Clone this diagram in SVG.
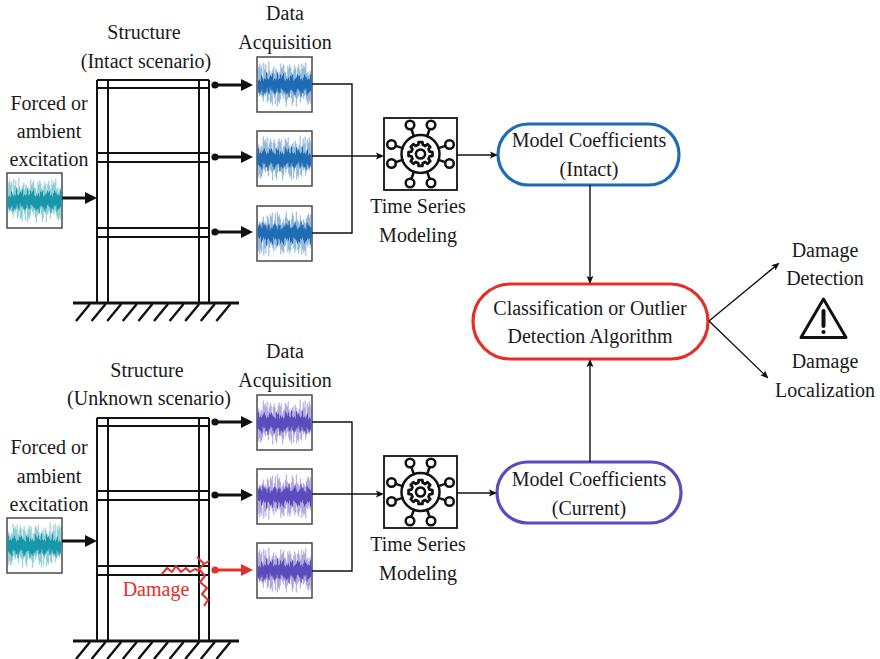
<svg xmlns="http://www.w3.org/2000/svg" xmlns:xlink="http://www.w3.org/1999/xlink" width="880" height="659" viewBox="0 0 880 659">
  <style>
    text { font-family: "Liberation Serif", "DejaVu Serif", serif; font-size: 20px; fill: #1a1a1a; text-anchor: middle; }
    .frame { stroke: #111; stroke-width: 2; fill: none; }
    .ground { stroke: #111; stroke-width: 3; fill: none; }
    .hatch { stroke: #111; stroke-width: 2.4; fill: none; }
    .sigbox { fill: #fff; stroke: #4a4a4a; stroke-width: 1.5; }
    .thick { stroke: #111; stroke-width: 3; fill: none; }
    .thin { stroke: #111; stroke-width: 1.4; fill: none; }
    .red { stroke: #e3302a; }
    .blue { color: #1f6cb4; }
    .teal { color: #1798aa; }
    .purple { color: #5a4cbc; }
    .icon { stroke: #111; stroke-width: 2.5; fill: none; stroke-linejoin: round; stroke-linecap: round; }
    .pill { fill: #fff; stroke-width: 3.2; }
  </style>
  <defs>
    <marker id="headThick" markerUnits="userSpaceOnUse" viewBox="0 0 12 12" markerWidth="12" markerHeight="12" refX="4" refY="6" orient="auto">
      <path d="M0,0 L12,6 L0,12 Z" fill="#111"/>
    </marker>
    <marker id="headThickRed" markerUnits="userSpaceOnUse" viewBox="0 0 12 12" markerWidth="12" markerHeight="12" refX="4" refY="6" orient="auto">
      <path d="M0,0 L12,6 L0,12 Z" fill="#e3302a"/>
    </marker>
    <marker id="headThin" markerUnits="userSpaceOnUse" viewBox="0 0 8 8" markerWidth="8" markerHeight="8" refX="6" refY="4" orient="auto">
      <path d="M0,0.6 L8,4 L0,7.4 L1.5,4 Z" fill="#111"/>
    </marker>

    <!-- noisy vibration record, centred on y=0, 54 px wide -->
    <g id="sig">
      <path fill="none" stroke="currentColor" stroke-opacity="0.42" stroke-width="0.7" d="M0,-14 L.5,9 L1,-18 L1.5,12 L2,-21 L2.5,7 L3,-16 L3.5,11 L4,-19 L4.5,13 L5,-8 L5.5,17 L6,-22 L6.5,10 L7,-15 L7.5,12 L8,-20 L8.5,9 L9,-13 L9.5,18 L10,-11 L10.5,16 L11,-23 L11.5,8 L12,-14 L12.5,19 L13,-10 L13.5,17 L14,-12 L14.5,21 L15,-15 L15.5,9 L16,-18 L16.5,13 L17,-11 L17.5,20 L18,-16 L18.5,8 L19,-14 L19.5,22 L20,-12 L20.5,17 L21,-10 L21.5,19 L22,-13 L22.5,15 L23,-21 L23.5,9 L24,-16 L24.5,11 L25,-18 L25.5,14 L26,-20 L26.5,10 L27,-13 L27.5,17 L28,-12 L28.5,22 L29,-8 L29.5,15 L30,-19 L30.5,11 L31,-16 L31.5,13 L32,-20 L32.5,9 L33,-17 L33.5,14 L34,-12 L34.5,21 L35,-10 L35.5,18 L36,-15 L36.5,11 L37,-19 L37.5,13 L38,-16 L38.5,22 L39,-9 L39.5,14 L40,-17 L40.5,12 L41,-20 L41.5,10 L42,-15 L42.5,18 L43,-11 L43.5,13 L44,-21 L44.5,9 L45,-16 L45.5,14 L46,-19 L46.5,12 L47,-17 L47.5,10 L48,-22 L48.5,15 L49,-11 L49.5,18 L50,-13 L50.5,20 L51,-9 L51.5,16 L52,-12 L52.5,19 L53,-14 L53.5,10"/>
      <path fill="none" stroke="currentColor" stroke-width="1.05" d="M.25,6 L.75,-4 L1.25,8 L1.75,-5 L2.25,10 L2.75,-3 L3.25,7 L3.75,-9 L4.25,5 L4.75,-6 L5.25,11 L5.75,-4 L6.25,8 L6.75,-6 L7.25,9 L7.75,-5 L8.25,7 L8.75,-12 L9.25,4 L9.75,-6 L10.25,8 L10.75,-5 L11.25,10 L11.75,-7 L12.25,3 L12.75,-9 L13.25,6 L13.75,-8 L14.25,5 L14.75,-11 L15.25,7 L15.75,-4 L16.25,9 L16.75,-6 L17.25,10 L17.75,-5 L18.25,8 L18.75,-6 L19.25,4 L19.75,-12 L20.25,7 L20.75,-5 L21.25,9 L21.75,-6 L22.25,8 L22.75,-10 L23.25,4 L23.75,-7 L24.25,5 L24.75,-9 L25.25,6 L25.75,-11 L26.25,8 L26.75,-5 L27.25,7 L27.75,-4 L28.25,10 L28.75,-6 L29.25,9 L29.75,-5 L30.25,8 L30.75,-7 L31.25,13 L31.75,-4 L32.25,6 L32.75,-9 L33.25,5 L33.75,-8 L34.25,6 L34.75,-10 L35.25,7 L35.75,-4 L36.25,9 L36.75,-5 L37.25,11 L37.75,-6 L38.25,8 L38.75,-7 L39.25,5 L39.75,-10 L40.25,4 L40.75,-8 L41.25,6 L41.75,-9 L42.25,7 L42.75,-5 L43.25,12 L43.75,-6 L44.25,8 L44.75,-4 L45.25,9 L45.75,-7 L46.25,5 L46.75,-10 L47.25,6 L47.75,-8 L48.25,4 L48.75,-7 L49.25,11 L49.75,-5 L50.25,9 L50.75,-6 L51.25,8 L51.75,-5 L52.25,7 L52.75,-10 L53.25,6 L53.75,-4"/>
    </g>

    <!-- three-storey frame with fixed base -->
    <g id="frame">
      <path class="frame" d="M97,80 V303 M108,80 V303 M199,80 V303 M209,80 V303 M97,80 H209 M97,88 H209 M97,153 H209 M97,162 H209 M97,228 H209 M97,237 H209"/>
      <path class="ground" d="M73,303 H239"/>
      <path class="hatch" d="M90,304 l-14,17 M105.6,304 l-14,17 M121.2,304 l-14,17 M136.8,304 l-14,17 M152.4,304 l-14,17 M168,304 l-14,17 M183.6,304 l-14,17 M199.2,304 l-14,17 M214.8,304 l-14,17 M230.4,304 l-14,17"/>
    </g>

    <!-- time series modelling icon -->
    <g id="tsIcon">
      <rect x="-36.5" y="-36" width="73" height="72" fill="#fff" stroke="#111" stroke-width="1.8"/>
      <circle class="icon" r="19"/>
      <circle class="icon" r="4.6"/>
      <g transform="scale(1.1)">
        <path class="icon" stroke-width="2.3" d="M8.25,-2.06 L10.87,-1.72 L10.87,1.72 L8.25,2.06 A8.5,8.5 0 0 1 7.29,4.38 L8.9,6.47 L6.47,8.9 L4.38,7.29 A8.5,8.5 0 0 1 2.06,8.25 L1.72,10.87 L-1.72,10.87 L-2.06,8.25 A8.5,8.5 0 0 1 -4.38,7.29 L-6.47,8.9 L-8.9,6.47 L-7.29,4.38 A8.5,8.5 0 0 1 -8.25,2.06 L-10.87,1.72 L-10.87,-1.72 L-8.25,-2.06 A8.5,8.5 0 0 1 -7.29,-4.38 L-8.9,-6.47 L-6.47,-8.9 L-4.38,-7.29 A8.5,8.5 0 0 1 -2.06,-8.25 L-1.72,-10.87 L1.72,-10.87 L2.06,-8.25 A8.5,8.5 0 0 1 4.38,-7.29 L6.47,-8.9 L8.9,-6.47 L7.29,-4.38 A8.5,8.5 0 0 1 8.25,-2.06 Z"/>
      </g>
      <path class="icon" d="M-6.6,-17.8 L-9.1,-24.7 M6.6,-17.8 L9.1,-24.7 M-6.6,17.8 L-9.1,24.7 M6.6,17.8 L9.1,24.7 M-18,-5.9 L-24.7,-8.1 M-18,5.9 L-24.7,8.1 M18,-5.9 L24.7,-8.1 M18,5.9 L24.7,8.1"/>
      <g class="icon">
        <circle cx="-10.5" cy="-29" r="4.3"/>
        <circle cx="10.5" cy="-29" r="4.3"/>
        <circle cx="-10.5" cy="29" r="4.3"/>
        <circle cx="10.5" cy="29" r="4.3"/>
        <circle cx="-29" cy="-9.5" r="4.3"/>
        <circle cx="-29" cy="9.5" r="4.3"/>
        <circle cx="29" cy="-9.5" r="4.3"/>
        <circle cx="29" cy="9.5" r="4.3"/>
      </g>
    </g>
  </defs>

  <!-- ===== intact scenario ===== -->
  <g id="excitation-intact">
    <text x="49" y="110">Forced or</text>
    <text x="49" y="138">ambient</text>
    <text x="49" y="166">excitation</text>
    <rect class="sigbox" x="7" y="173" width="55" height="55"/>
    <use href="#sig" class="teal" transform="translate(7.8,200.5)"/>
  </g>

  <g id="structure-intact">
    <text x="144" y="39">Structure</text>
    <text x="146" y="68">(Intact scenario)</text>
    <use href="#frame"/>
  </g>

  <g id="acquisition-intact">
    <text x="285" y="20">Data</text>
    <text x="285" y="49">Acquisition</text>
    <rect class="sigbox" x="257" y="57" width="55" height="55"/>
    <use href="#sig" class="blue" transform="translate(257.8,84.5)"/>
    <rect class="sigbox" x="257" y="131" width="55" height="55"/>
    <use href="#sig" class="blue" transform="translate(311.2,158.5) scale(-1,1)"/>
    <rect class="sigbox" x="257" y="206" width="55" height="55"/>
    <use href="#sig" class="blue" transform="translate(257.8,233.5) scale(1,-1)"/>
  </g>

  <g id="modeling-intact">
    <use href="#tsIcon" transform="translate(420.5,154)"/>
    <text x="418" y="213">Time Series</text>
    <text x="418" y="242">Modeling</text>
  </g>

  <g id="coefficients-intact">
    <rect class="pill" x="498" y="124" width="181" height="61" rx="30.5" stroke="#1f6cb4"/>
    <text x="589" y="147">Model Coefficients</text>
    <text x="589" y="176">(Intact)</text>
  </g>

  <!-- ===== unknown scenario ===== -->
  <g id="excitation-current">
    <text x="49" y="454">Forced or</text>
    <text x="49" y="483">ambient</text>
    <text x="49" y="511">excitation</text>
    <rect class="sigbox" x="7" y="518" width="55" height="55"/>
    <use href="#sig" class="teal" transform="translate(61.2,545.5) scale(-1,1)"/>
  </g>

  <g id="structure-current">
    <text x="147" y="377">Structure</text>
    <text x="149" y="405">(Unknown scenario)</text>
    <use href="#frame" transform="translate(0,338)"/>
    <!-- crack at the lower beam-column joint -->
    <path class="red" fill="none" stroke-width="2" stroke-linejoin="round" d="M162,574 L167,568 L172,572 L176,566 L181,572 L186,568 L190,572 L195,569 L199,571"/>
    <path class="red" fill="none" stroke-width="2" stroke-linejoin="round" d="M197,557 L204,564 L199,569 L205,576 L200,582 L207,588 L202,594 L208,600 L204,606 M204,564 L209,561"/>
    <text x="156" y="596" style="fill:#e3302a">Damage</text>
  </g>

  <g id="acquisition-current">
    <text x="285" y="358">Data</text>
    <text x="285" y="387">Acquisition</text>
    <rect class="sigbox" x="257" y="395" width="55" height="55"/>
    <use href="#sig" class="purple" transform="translate(311.2,422.5) scale(-1,1)"/>
    <rect class="sigbox" x="257" y="469" width="55" height="55"/>
    <use href="#sig" class="purple" transform="translate(257.8,496.5) scale(1,-1)"/>
    <rect class="sigbox" x="257" y="543" width="55" height="55"/>
    <use href="#sig" class="purple" transform="translate(257.8,570.5)"/>
  </g>

  <g id="modeling-current">
    <use href="#tsIcon" transform="translate(420.5,492)"/>
    <text x="418" y="551">Time Series</text>
    <text x="418" y="580">Modeling</text>
  </g>

  <g id="coefficients-current">
    <rect class="pill" x="497" y="462" width="184" height="61" rx="30.5" stroke="#5a4cbc"/>
    <text x="589" y="486">Model Coefficients</text>
    <text x="589" y="515">(Current)</text>
  </g>

  <!-- ===== decision ===== -->
  <g id="classifier">
    <rect class="pill" x="473" y="284" width="235" height="75" rx="37.5" stroke="#e3302a"/>
    <text x="590" y="315">Classification or Outlier</text>
    <text x="590" y="343">Detection Algorithm</text>
  </g>

  <g id="outcomes">
    <text x="825" y="257">Damage</text>
    <text x="825" y="285">Detection</text>
    <path d="M823.5,299 L846,337.5 H801 Z" fill="none" stroke="#111" stroke-width="3" stroke-linejoin="round"/>
    <path d="M823.5,311 V326" stroke="#111" stroke-width="4" stroke-linecap="round"/>
    <circle cx="823.5" cy="332" r="2.1" fill="#111"/>
    <text x="825" y="368">Damage</text>
    <text x="825" y="397">Localization</text>
  </g>

  <!-- ===== connectors ===== -->
  <g id="connectors">
    <!-- excitation into structures -->
    <path class="thick" d="M62,198 H89" marker-end="url(#headThick)"/>
    <path class="thick" d="M62,541 H89" marker-end="url(#headThick)"/>

    <!-- sensors to data acquisition -->
    <g fill="#111">
      <circle cx="215" cy="85" r="3.6"/>
      <circle cx="215" cy="157" r="3.6"/>
      <circle cx="215" cy="232" r="3.6"/>
      <circle cx="215" cy="422" r="3.6"/>
      <circle cx="215" cy="495" r="3.6"/>
    </g>
    <circle cx="215" cy="570" r="3.6" fill="#e3302a"/>
    <path class="thick" d="M215,85 H245" marker-end="url(#headThick)"/>
    <path class="thick" d="M215,157 H245" marker-end="url(#headThick)"/>
    <path class="thick" d="M215,232 H245" marker-end="url(#headThick)"/>
    <path class="thick" d="M215,422 H245" marker-end="url(#headThick)"/>
    <path class="thick" d="M215,495 H245" marker-end="url(#headThick)"/>
    <path class="thick red" d="M215,570 H245" marker-end="url(#headThickRed)"/>

    <!-- records to modelling -->
    <path class="thin" d="M312,84 H352 V233 H312"/>
    <path class="thin" d="M312,156 H382" marker-end="url(#headThin)"/>
    <path class="thin" d="M312,422 H352 V571 H312"/>
    <path class="thin" d="M312,494 H382" marker-end="url(#headThin)"/>

    <!-- modelling to coefficients -->
    <path class="thin" d="M457,155 H496" marker-end="url(#headThin)"/>
    <path class="thin" d="M457,493 H495" marker-end="url(#headThin)"/>

    <!-- coefficients to classifier -->
    <path class="thin" d="M590,185 V282" marker-end="url(#headThin)"/>
    <path class="thin" d="M590,462 V361" marker-end="url(#headThin)"/>

    <!-- classifier to outcomes -->
    <path class="thin" d="M709,321 L778,264" marker-end="url(#headThin)"/>
    <path class="thin" d="M709,321 L767,377" marker-end="url(#headThin)"/>
  </g>
</svg>
